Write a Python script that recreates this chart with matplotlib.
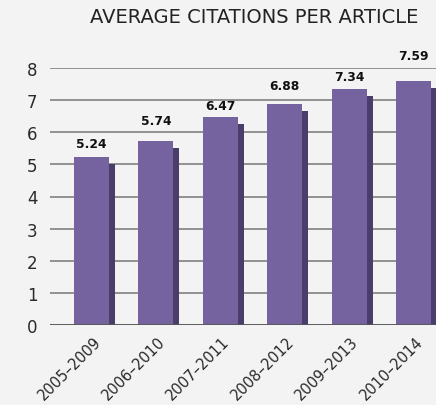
import numpy as np
import matplotlib
matplotlib.use("Agg")
import matplotlib.pyplot as plt
from matplotlib.transforms import offset_copy

# data
periods = ["2005–2009", "2006–2010", "2007–2011", "2008–2012", "2009–2013", "2010–2014"]
citations = [5.24, 5.74, 6.47, 6.88, 7.34, 7.59]
yticks = [0, 1, 2, 3, 4, 5, 6, 7, 8]

# styling (label gap above bar, in points, as drawn in the original)
label_gap = [5, 9.5, 3.5, 8.5, 4.5, 13.5]
bg = "#f2f3f2"
front = "#74639e"
shade = "#4a3d69"

plt.rcParams["font.family"] = ["DejaVu Sans"]

fig = plt.figure(figsize=(4.36, 4.06), dpi=100, facecolor=bg)
ax = fig.add_axes([50 / 436, 80 / 406, 386 / 436, 257 / 406], facecolor=bg)

x = np.arange(len(periods))
w = 0.545
ax.bar(x + w / 2 + 0.045, np.array(citations) - 0.22, width=0.095, color=shade, zorder=2)
ax.bar(x, citations, width=w, color=front, zorder=3)

for yv in yticks:
    ax.axhline(yv, color="#777777", lw=1.1, zorder=1)
ax.axhline(0, color="#555555", lw=1.2, zorder=4)

for i, v in enumerate(citations):
    ax.annotate(f"{v:.2f}", (x[i], v), xytext=(0, label_gap[i]), textcoords="offset points",
                ha="center", va="bottom", fontsize=8.8, fontweight="bold", color="#111111",
                annotation_clip=False)

ax.set_xlim(-0.645, 5.35)
ax.set_ylim(0, 8)
ax.set_yticks(yticks)
ax.set_yticklabels([str(t) for t in yticks], fontsize=12, color="#2a2a2a")
ax.set_xticks(x)
ax.set_xticklabels([])
ax.tick_params(axis="both", length=0)
ax.tick_params(axis="y", pad=9)
for s in ax.spines.values():
    s.set_visible(False)

for i, p in enumerate(periods):
    tr = offset_copy(ax.transData, fig=fig, x=5, y=-10, units="points")
    ax.text(x[i], 0, p, transform=tr, rotation=45, rotation_mode="anchor",
            ha="right", va="center", fontsize=10.5, color="#2a2a2a", clip_on=False)

fig.text(0.583, 0.958, "AVERAGE CITATIONS PER ARTICLE", ha="center", va="center",
         fontsize=14, color="#222222")

fig.savefig("out.png", dpi=100, facecolor=bg)
